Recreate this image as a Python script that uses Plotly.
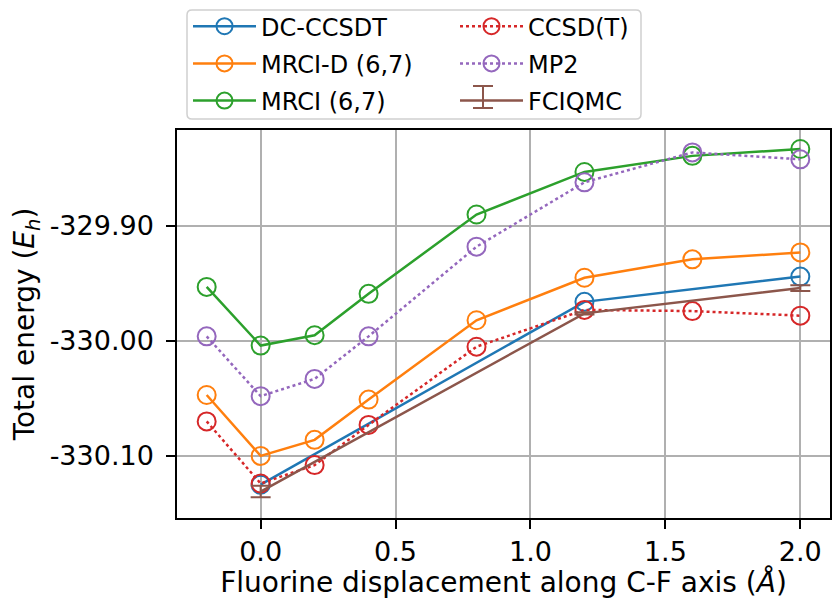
import plotly.graph_objects as go

x_all = [-0.2, 0.0, 0.2, 0.4, 0.8, 1.2, 1.6, 2.0]
x_sparse = [0.0, 1.2, 2.0]

dc_ccsdt = [-330.125, -329.966, -329.944]
mrci_d = [-330.047, -330.100, -330.086, -330.051, -329.982, -329.945, -329.929, -329.923]
mrci = [-329.953, -330.004, -329.995, -329.959, -329.890, -329.853, -329.839, -329.833]
ccsd_t = [-330.070, -330.124, -330.108, -330.073, -330.005, -329.973, -329.974, -329.978]
mp2 = [-329.996, -330.048, -330.033, -329.996, -329.918, -329.862, -329.836, -329.842]
fciqmc = [-330.131, -329.976, -329.954]
fciqmc_err = [0.005, 0.001, 0.0025]

y_ticks = [-330.10, -330.00, -329.90]
y_ticktext = ["-330.10", "-330.00", "-329.90"]
x_ticks = [0.0, 0.5, 1.0, 1.5, 2.0]
x_ticktext = ["0.0", "0.5", "1.0", "1.5", "2.0"]

BLUE = "#1f77b4"
ORANGE = "#ff7f0e"
GREEN = "#2ca02c"
RED = "#d62728"
PURPLE = "#9467bd"
BROWN = "#8c564b"

FONT = "DejaVu Sans"
fig = go.Figure()


def add_series(name, xs, ys, color, dash, legend):
    fig.add_trace(go.Scatter(
        x=xs, y=ys, name=name, mode="lines+markers",
        line=dict(color=color, width=2.5, dash=dash),
        marker=dict(symbol="circle-open", size=18, color=color, line=dict(width=2, color=color)),
        legend=legend, legendgroup=name,
    ))


add_series("DC-CCSDT", x_sparse, dc_ccsdt, BLUE, "solid", "legend")
add_series("MRCI-D (6,7)", x_all, mrci_d, ORANGE, "solid", "legend")
add_series("MRCI (6,7)", x_all, mrci, GREEN, "solid", "legend")
add_series("CCSD(T)", x_all, ccsd_t, RED, "dot", "legend2")
add_series("MP2", x_all, mp2, PURPLE, "dot", "legend2")

fig.add_trace(go.Scatter(
    x=x_sparse, y=fciqmc, name="FCIQMC", mode="lines",
    line=dict(color=BROWN, width=2.5),
    error_y=dict(type="data", array=fciqmc_err, visible=True, color=BROWN, thickness=2, width=10),
    legend="legend2", legendgroup="FCIQMC",
))

axis_common = dict(
    showline=True, linecolor="black", linewidth=1.5, mirror=True,
    showgrid=True, gridcolor="#b0b0b0", gridwidth=1.5,
    ticks="outside", ticklen=9, tickwidth=1.5, tickcolor="black",
    tickfont=dict(family=FONT, size=27, color="black"),
    zeroline=False, automargin=False,
)

# plot-area pixel helpers (for legend decoration only)
L, R, T, B = 177, 830, 130, 518
def px(xp):
    return (xp - L) / (R - L)
def py(yp):
    return (B - yp) / (B - T)

# rounded legend frame
x0, x1, y0, y1 = px(187), px(641), py(119), py(10)
rx, ry = 5 / (R - L), 5 / (B - T)
frame_path = (
    f"M{x0+rx},{y0} L{x1-rx},{y0} Q{x1},{y0} {x1},{y0+ry} "
    f"L{x1},{y1-ry} Q{x1},{y1} {x1-rx},{y1} "
    f"L{x0+rx},{y1} Q{x0},{y1} {x0},{y1-ry} "
    f"L{x0},{y0+ry} Q{x0},{y0} {x0+rx},{y0} Z"
)

shapes = [
    dict(type="path", xref="paper", yref="paper", path=frame_path,
         line=dict(color="#d0d0d0", width=1.5), fillcolor="rgba(0,0,0,0)", layer="below"),
    # error-bar glyph for the FCIQMC legend entry
    dict(type="line", xref="paper", yref="paper", x0=px(483), x1=px(483), y0=py(86), y1=py(108),
         line=dict(color=BROWN, width=2)),
    dict(type="line", xref="paper", yref="paper", x0=px(473), x1=px(493), y0=py(86), y1=py(86),
         line=dict(color=BROWN, width=2)),
    dict(type="line", xref="paper", yref="paper", x0=px(473), x1=px(493), y0=py(108), y1=py(108),
         line=dict(color=BROWN, width=2)),
]

leg_common = dict(
    yanchor="top", xanchor="left",
    font=dict(family=FONT, size=24, color="black"),
    bgcolor="rgba(0,0,0,0)", itemwidth=63, tracegroupgap=3,
    itemsizing="trace",
)

fig.update_layout(
    width=833, height=599,
    margin=dict(l=L, r=833 - R, t=T, b=599 - B, autoexpand=False),
    paper_bgcolor="white", plot_bgcolor="white",
    font=dict(family=FONT, color="black"),
    xaxis=dict(
        range=[-0.31, 2.11], tickvals=x_ticks, ticktext=x_ticktext,
        title=dict(text="Fluorine displacement along C-F axis (<i>Å</i>)",
                   font=dict(family=FONT, size=28, color="black"), standoff=8),
        **axis_common,
    ),
    yaxis=dict(
        range=[-330.154, -329.8165], tickvals=y_ticks, ticktext=y_ticktext,
        ticklabelstandoff=7,
        title=dict(text="Total energy (<i>E</i><sub><i>h</i></sub>)",
                   font=dict(family=FONT, size=28, color="black"), standoff=7),
        **axis_common,
    ),
    legend=dict(x=px(188), y=1.3245, **leg_common),
    legend2=dict(x=px(455), y=1.3245, **leg_common),
    shapes=shapes,
    showlegend=True,
)

fig.write_html(
    "out.html",
    config={"displayModeBar": False},
    post_script="document.body.style.margin='0';document.body.style.padding='0';",
)
